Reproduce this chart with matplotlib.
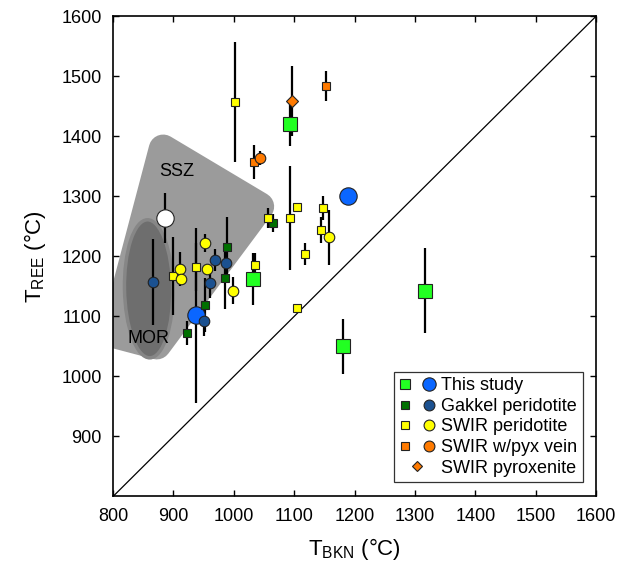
import numpy as np
import matplotlib
matplotlib.use("Agg")
import matplotlib.pyplot as plt
from matplotlib.patches import Polygon, Ellipse
from matplotlib.lines import Line2D
from matplotlib.legend_handler import HandlerTuple

plt.rcParams['font.family'] = ['Liberation Sans', 'DejaVu Sans']
plt.rcParams['mathtext.fontset'] = 'custom'
plt.rcParams['mathtext.rm'] = 'Liberation Sans'

# ---- data (T_BKN, T_REE, error in T_REE) ----
study_sq_x = [1093, 1032, 1181, 1316]
study_sq_y = [1421, 1162, 1050, 1143]
study_sq_e = [37, 43, 46, 71]

study_ci_x = [938, 1190]
study_ci_y = [1102, 1300]
study_ci_e = [146, 6]

white_x = [886]
white_y = [1264]
white_e = [42]

gak_sq_x = [922, 953, 985, 988, 1065]
gak_sq_y = [1073, 1119, 1164, 1216, 1255]
gak_sq_e = [20, 45, 52, 50, 15]

gak_ci_x = [867, 951, 961, 969, 987]
gak_ci_y = [1157, 1093, 1155, 1194, 1189]
gak_ci_e = [72, 25, 25, 18, 30]

swir_sq_x = [900, 937, 1002, 1036, 1057, 1093, 1105, 1118, 1148, 1145, 1104]
swir_sq_y = [1168, 1183, 1458, 1186, 1264, 1264, 1282, 1204, 1280, 1244, 1114]
swir_sq_e = [65, 40, 100, 20, 16, 86, 0, 19, 20, 22, 0]

swir_ci_x = [911, 913, 953, 955, 999, 1157]
swir_ci_y = [1179, 1162, 1223, 1179, 1143, 1232]
swir_ci_e = [29, 0, 15, 0, 23, 46]

vein_sq_x = [1033, 1152]
vein_sq_y = [1357, 1484]
vein_sq_e = [28, 25]

vein_ci_x = [1044]
vein_ci_y = [1364]
vein_ci_e = [12]

pyx_x = [1096]
pyx_y = [1459]
pyx_e = [59]

# tectonic fields
ssz_outline = np.array([[773, 1054], [882, 1025], [1078, 1290], [868, 1416]], float)
mor_center = (859, 1146)
mor_size = (80, 230)


def inset(poly, d):
    # move every edge inward by d and intersect neighbours
    n = len(poly)
    lines = []
    for i in range(n):
        p, q = poly[i], poly[(i + 1) % n]
        t = (q - p) / np.linalg.norm(q - p)
        nrm = np.array([-t[1], t[0]])
        lines.append((p + nrm * d, t))
    out = []
    for i in range(n):
        p1, t1 = lines[i - 1]
        p2, t2 = lines[i]
        A = np.array([t1, -t2]).T
        s = np.linalg.solve(A, p2 - p1)
        out.append(p1 + s[0] * t1)
    return np.array(out)


fig = plt.figure(figsize=(6.22, 5.64), dpi=100)
ax = fig.add_axes([0.1817, 0.1197, 0.7765, 0.8514])

ax.add_patch(Polygon(inset(ssz_outline, 24), closed=True, facecolor='#9b9b9b',
                     edgecolor='#9b9b9b', linewidth=20.8, joinstyle='round', zorder=1))
ax.add_patch(Ellipse(mor_center, mor_size[0], mor_size[1], angle=1,
                     facecolor='#6e6e6e', edgecolor='#868686', linewidth=2.5, zorder=1.5))
ax.text(905, 1341, 'SSZ', fontsize=13, ha='center', va='center', zorder=2)
ax.text(858, 1064, 'MOR', fontsize=13, ha='center', va='center', zorder=2)

ax.plot([800, 1600], [800, 1600], color='k', lw=0.9, zorder=2)

groups = [
    (study_sq_x, study_sq_y, study_sq_e, 's', 10.5, '#22ff22'),
    (study_ci_x, study_ci_y, study_ci_e, 'o', 12.5, '#0a66ff'),
    (white_x, white_y, white_e, 'o', 12.5, 'white'),
    (gak_sq_x, gak_sq_y, gak_sq_e, 's', 6.3, '#007000'),
    (gak_ci_x, gak_ci_y, gak_ci_e, 'o', 7.6, '#1b5190'),
    (swir_sq_x, swir_sq_y, swir_sq_e, 's', 6.3, '#ffff00'),
    (swir_ci_x, swir_ci_y, swir_ci_e, 'o', 7.6, '#ffff00'),
    (vein_sq_x, vein_sq_y, vein_sq_e, 's', 6.3, '#ff7a00'),
    (vein_ci_x, vein_ci_y, vein_ci_e, 'o', 7.6, '#ff7a00'),
    (pyx_x, pyx_y, pyx_e, 'D', 6.5, '#ff7a00'),
]
for x, y, e, m, ms, c in groups:
    ax.errorbar(x, y, yerr=e, fmt='none', ecolor='k', elinewidth=1.6, capsize=0, zorder=3)
for x, y, e, m, ms, c in groups:
    ax.plot(x, y, linestyle='none', marker=m, markersize=ms, markerfacecolor=c,
            markeredgecolor='#222222', markeredgewidth=0.8, zorder=4)

ax.set_xlim(800, 1600)
ax.set_ylim(800, 1600)
ax.set_xticks(np.arange(800, 1601, 100))
ax.set_yticks(np.arange(900, 1601, 100))
ax.tick_params(direction='in', length=4, width=1, top=True, right=True,
               labelsize=13, pad=8)
for s in ax.spines.values():
    s.set_linewidth(1.2)

ax.set_xlabel(r'$\mathrm{T_{BKN}}$ (°C)', fontsize=16, labelpad=8)
ax.set_ylabel(r'$\mathrm{T_{REE}}$ (°C)', fontsize=16, labelpad=10)


def mk(m, ms, c):
    return Line2D([], [], linestyle='none', marker=m, markersize=ms, markerfacecolor=c,
                  markeredgecolor='#222222', markeredgewidth=0.8)


handles = [
    (mk('s', 7.2, '#22ff22'), mk('o', 9.6, '#0a66ff')),
    (mk('s', 5.8, '#007000'), mk('o', 7.8, '#1b5190')),
    (mk('s', 5.8, '#ffff00'), mk('o', 7.8, '#ffff00')),
    (mk('s', 5.8, '#ff7a00'), mk('o', 7.8, '#ff7a00')),
    mk('D', 5.5, '#ff7a00'),
]
labels = ['This study', 'Gakkel peridotite', 'SWIR peridotite', 'SWIR w/pyx vein', 'SWIR pyroxenite']
leg = ax.legend(handles, labels, handler_map={tuple: HandlerTuple(ndivide=None, pad=0.6)},
                loc='lower right', bbox_to_anchor=(0.973, 0.03), fontsize=13,
                frameon=True, fancybox=False, edgecolor='k', handlelength=2.0,
                handletextpad=0.35, labelspacing=0.2, borderpad=0.3, borderaxespad=0)
leg.get_frame().set_linewidth(0.9)

fig.savefig('out.png', dpi=100)
